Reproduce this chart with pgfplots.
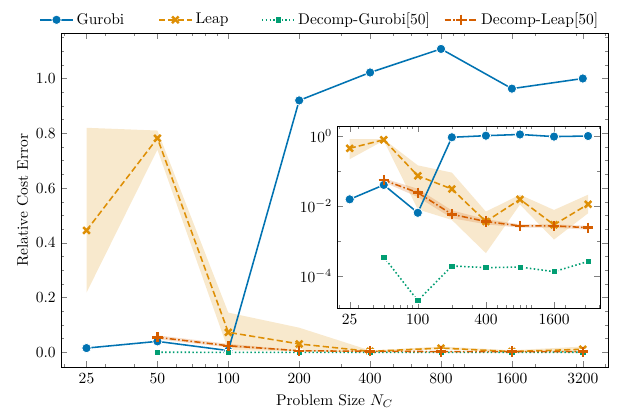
\documentclass[border=0pt]{standalone}
\usepackage{pgfplots}
\pgfplotsset{compat=1.18}
\definecolor{cblue}{HTML}{0173B2}
\definecolor{corange}{HTML}{DE8F05}
\definecolor{cgreen}{HTML}{029E73}
\definecolor{cred}{HTML}{D55E00}
\pgfplotsset{
  gur/.style={cblue, line width=1pt, mark=*, mark size=3pt, mark options={solid, fill=cblue, draw=white, line width=0.5pt}},
  leap/.style={corange, line width=1pt, dash pattern=on 4pt off 2pt, mark=x, mark size=3pt, mark options={solid, line width=1.6pt}},
  dgur/.style={cgreen, line width=1pt, dash pattern=on 1pt off 1.5pt, mark=square*, mark size=2pt, mark options={solid, fill=cgreen, draw=white, line width=0.4pt}},
  dleap/.style={cred, line width=1pt, dash pattern=on 4pt off 1.5pt on 1pt off 1.5pt, mark=+, mark size=3.3pt, mark options={solid, line width=1.6pt}},
  leapband/.style={fill=corange, fill opacity=0.2, draw=none, forget plot},
  dleapband/.style={fill=cred, fill opacity=0.2, draw=none, forget plot},
}
\begin{document}
\begin{tikzpicture}
\begin{axis}[name=main,
  scale only axis,
  xmode=log, xmin=19.5, xmax=4100,
  tick align=inside,
  major tick length=3.8pt, minor tick length=2pt,
  axis line style={line width=0.6pt},
  legend image code/.code={\draw[mark repeat=2,mark phase=2] plot coordinates {(0pt,0pt) (10.5pt,0pt) (21pt,0pt)};},
  width=352.9pt, height=215.5pt,
  ymin=-0.055, ymax=1.165,
  xtick={25,50,100,200,400,800,1600,3200},
  xticklabels={25,50,100,200,400,800,1600,3200},
  minor xtick={20,30,40,60,70,80,90,300,500,600,700,900,1000,2000,3000,4000},
  ytick={0,0.2,0.4,0.6,0.8,1.0},
  minor ytick={0.05,0.1,0.15,0.25,0.3,0.35,0.45,0.5,0.55,0.65,0.7,0.75,0.85,0.9,0.95,1.05,1.1,1.15},
  yticklabel style={/pgf/number format/.cd, fixed, fixed zerofill, precision=1},
  xlabel={Problem Size $N_C$},
  ylabel={Relative Cost Error},
  ylabel style={yshift=-2pt},
  legend columns=4,
  legend style={draw=none, fill=none, at={(0.474,1.0)}, anchor=south,
    /tikz/column 2/.style={column sep=20pt},
    /tikz/column 4/.style={column sep=19pt},
    /tikz/column 6/.style={column sep=7pt}},
]
\addplot[leapband] coordinates {(25,0.82)(50,0.81)(100,0.145)(200,0.09)(400,0.0069)(800,0.021)(1600,0.0077)(3200,0.021)
  (3200,0.0062)(1600,0.0011)(800,0.011)(400,0.00045)(200,0.004)(100,0.008)(50,0.74)(25,0.218)};
\addplot[dleapband] coordinates {(50,0.062)(100,0.031)(200,0.0075)(400,0.0042)(800,0.003)(1600,0.003)(3200,0.0027)
  (3200,0.0021)(1600,0.0024)(800,0.0024)(400,0.003)(200,0.0045)(100,0.018)(50,0.048)};
\addplot[gur] coordinates {(25,0.0155)(50,0.040)(100,0.0064)(200,0.92)(400,1.022)(800,1.108)(1600,0.963)(3200,1.0)};
\addlegendentry{Gurobi}
\addplot[leap] coordinates {(25,0.445)(50,0.782)(100,0.073)(200,0.0306)(400,0.0036)(800,0.0155)(1600,0.0029)(3200,0.0112)};
\addlegendentry{Leap}
\addplot[dgur] coordinates {(50,3.5e-4)(100,1.97e-5)(200,1.93e-4)(400,1.73e-4)(800,1.8e-4)(1600,1.33e-4)(3200,2.6e-4)};
\addlegendentry{Decomp-Gurobi[50]}
\addplot[dleap] coordinates {(50,0.055)(100,0.024)(200,0.0058)(400,0.0036)(800,0.0027)(1600,0.0027)(3200,0.0024)};
\addlegendentry{Decomp-Leap[50]}
\end{axis}
\begin{axis}[
  scale only axis,
  xmode=log, xmin=19.5, xmax=4100,
  tick align=inside,
  major tick length=3.8pt, minor tick length=2pt,
  axis line style={line width=0.6pt},
  at={(main.south west)}, anchor=south west, xshift=178.3pt, yshift=38.1pt,
  width=169.5pt, height=117.6pt,
  ymode=log, ymin=1.19e-5, ymax=1.93,
  axis background/.style={fill=white},
  xtick={25,100,400,1600},
  xticklabels={25,100,400,1600},
  minor xtick={20,30,40,50,60,70,80,90,200,300,500,600,700,800,900,1000,2000,3000,4000},
  ytick={1e-4,1e-2,1},
  yticklabels={$10^{-4}$,$10^{-2}$,$10^{0}$},
  minor ytick={1e-5,1e-3,1e-1},
]
\addplot[leapband] coordinates {(25,0.82)(50,0.81)(100,0.145)(200,0.09)(400,0.0069)(800,0.021)(1600,0.0077)(3200,0.021)
  (3200,0.0062)(1600,0.0011)(800,0.011)(400,0.00045)(200,0.004)(100,0.008)(50,0.74)(25,0.218)};
\addplot[dleapband] coordinates {(50,0.062)(100,0.031)(200,0.0075)(400,0.0042)(800,0.003)(1600,0.003)(3200,0.0027)
  (3200,0.0021)(1600,0.0024)(800,0.0024)(400,0.003)(200,0.0045)(100,0.018)(50,0.048)};
\addplot[gur] coordinates {(25,0.0155)(50,0.040)(100,0.0064)(200,0.92)(400,1.022)(800,1.108)(1600,0.963)(3200,1.0)};
\addplot[leap] coordinates {(25,0.445)(50,0.782)(100,0.073)(200,0.0306)(400,0.0036)(800,0.0155)(1600,0.0029)(3200,0.0112)};
\addplot[dgur] coordinates {(50,3.5e-4)(100,1.97e-5)(200,1.93e-4)(400,1.73e-4)(800,1.8e-4)(1600,1.33e-4)(3200,2.6e-4)};
\addplot[dleap] coordinates {(50,0.055)(100,0.024)(200,0.0058)(400,0.0036)(800,0.0027)(1600,0.0027)(3200,0.0024)};
\end{axis}
\pgfresetboundingbox
\path ([shift={(-39.4pt,-29.5pt)}]main.south west) rectangle ([shift={(361.2pt,237pt)}]main.south west);
\end{tikzpicture}
\end{document}
